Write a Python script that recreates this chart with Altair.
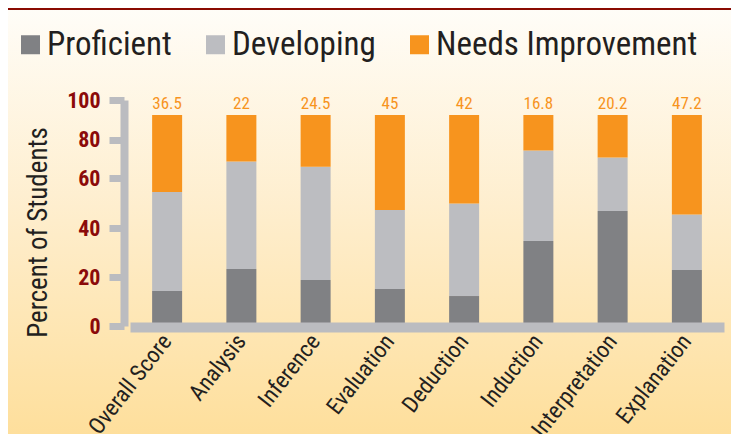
import altair as alt
import pandas as pd

# ---- data ----
CATEGORIES = ["Overall Score", "Analysis", "Inference", "Evaluation",
              "Deduction", "Induction", "Interpretation", "Explanation"]
PROFICIENT = [16.6, 27.0, 21.8, 17.5, 14.2, 40.3, 54.5, 26.5]
DEVELOPING = [46.9, 51.0, 53.7, 37.5, 43.8, 42.9, 25.3, 26.3]
NEEDS_IMPROVEMENT = [36.5, 22, 24.5, 45, 42, 16.8, 20.2, 47.2]
NI_LABELS = ["36.5", "22", "24.5", "45", "42", "16.8", "20.2", "47.2"]

LEVELS = ["Proficient", "Developing", "Needs Improvement"]
LEVEL_COLORS = ["#808184", "#BCBDC1", "#F7941E"]

# y-axis ticks as drawn in the reference (positions in data units, printed labels)
TICK_POS = [0, 23.2, 46.4, 70.1, 88.2, 107.1]
TICK_LABELS = ["0", "20", "40", "60", "80", "100"]

FONT = "Roboto Condensed, DejaVu Sans Condensed, sans-serif"

rows = []
for i, c in enumerate(CATEGORIES):
    for j, (lvl, vals) in enumerate(zip(LEVELS, [PROFICIENT, DEVELOPING, NEEDS_IMPROVEMENT])):
        rows.append({"Category": c, "Level": lvl, "Value": vals[i], "ord": j})
df = pd.DataFrame(rows)

lab = pd.DataFrame({
    "Category": CATEGORIES,
    "Label": NI_LABELS,
    "Top": [p + d + n for p, d, n in zip(PROFICIENT, DEVELOPING, NEEDS_IMPROVEMENT)],
})

label_map = "{" + ",".join(f"'{p}':'{l}'" for p, l in zip(TICK_POS, TICK_LABELS)) + "}"
label_expr = f"{label_map}[toString(datum.value)]"

W, H = 594, 226
PAD = {"left": 122, "top": 92, "right": 7, "bottom": 108}

bg = alt.Chart(alt.Data(values=[{}])).mark_rect(
    color=alt.Gradient(
        gradient="linear",
        stops=[alt.GradientStop(color="#FFFDF8", offset=0),
               alt.GradientStop(color="#FEEDCB", offset=0.5),
               alt.GradientStop(color="#FEDF9C", offset=1)],
        x1=0, x2=0, y1=0, y2=1,
    )
).encode(
    x=alt.value(-PAD["left"]), x2=alt.value(W + PAD["right"]),
    y=alt.value(-PAD["top"]), y2=alt.value(H + PAD["bottom"]),
)

band = alt.Chart(alt.Data(values=[{}])).mark_rect(color="#8A0B02").encode(
    x=alt.value(-PAD["left"]), x2=alt.value(W + PAD["right"]),
    y=alt.value(-PAD["top"]), y2=alt.value(-PAD["top"] + 2),
)

xenc = alt.X(
    "Category:N", sort=CATEGORIES,
    scale=alt.Scale(paddingInner=0.596, paddingOuter=0.298),
    axis=alt.Axis(
        title=None, labelAngle=-52, labelAlign="right", labelBaseline="middle",
        labelFont=FONT, labelFontSize=23, labelColor="#231F20", labelPadding=10,
        ticks=False, domainColor="#BBBCC0", domainWidth=10, offset=1, zindex=1,
    ),
)

bars = alt.Chart(df).mark_bar(opacity=1).encode(
    x=xenc,
    y=alt.Y(
        "Value:Q", stack="zero",
        scale=alt.Scale(domain=[0, 107.1], nice=False),
        axis=alt.Axis(
            values=TICK_POS, labelExpr=label_expr, grid=False, zindex=1,
            labelFont=FONT, labelFontSize=22, labelFontWeight="bold",
            labelColor="#8B0A0A", labelPadding=9,
            tickSize=15, tickWidth=7, tickColor="#BBBCC0",
            domainColor="#BBBCC0", domainWidth=8, offset=6,
            title="Percent of Students", titleFont=FONT, titleFontSize=27,
            titleFontWeight="normal", titleColor="#231F20",
            titleAngle=-90, titleX=-78, titleY=132,
            titleAlign="center", titleBaseline="alphabetic",
        ),
    ),
    color=alt.Color(
        "Level:N",
        scale=alt.Scale(domain=LEVELS, range=LEVEL_COLORS),
        legend=alt.Legend(
            title=None, orient="none", legendX=-116, legendY=-72, padding=0,
            direction="horizontal", symbolType="square", symbolSize=361,
            symbolStrokeWidth=0, symbolOpacity=1, labelFont=FONT,
            labelFontSize=33, labelColor="#231F20", labelOffset=0,
            columnPadding=27, labelLimit=400,
        ),
    ),
    order=alt.Order("ord:Q", sort="ascending"),
)

text = alt.Chart(lab).mark_text(
    font=FONT, fontSize=17, color="#F7941E", dy=-6, baseline="alphabetic"
).encode(
    x=alt.X("Category:N", sort=CATEGORIES),
    y=alt.Y("Top:Q"),
    text="Label:N",
)

chart = alt.layer(bg, band, bars, text).properties(
    width=W, height=H, padding=PAD,
    autosize=alt.AutoSizeParams(type="none"),
    background="#FEF3DC",
).configure_view(stroke=None)

chart.save("out.html", embed_options={"renderer": "svg", "actions": False})
